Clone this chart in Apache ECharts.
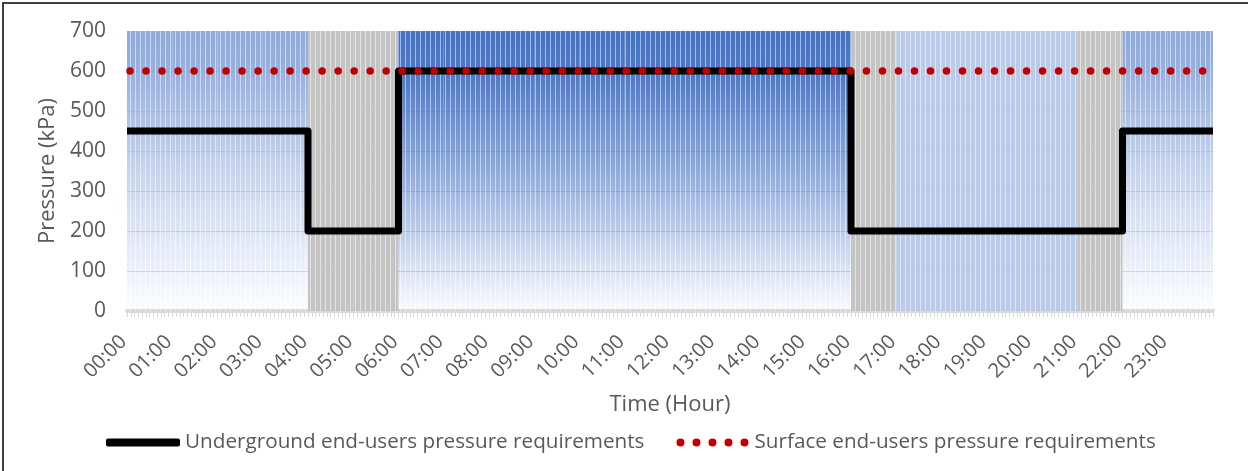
<!DOCTYPE html>
<html>
<head>
<meta charset="utf-8">
<title>Pressure requirements</title>
<script src="https://cdn.jsdelivr.net/npm/echarts@6/dist/echarts.min.js"></script>
<style>
  html, body { margin: 0; padding: 0; background: #ffffff; }
  #wrap { position: relative; width: 1248px; height: 471px; overflow: hidden; }
  #chart { width: 1248px; height: 471px; }
  #frame { position: absolute; left: 2px; top: 2px; width: 1300px; height: 520px;
           border-left: 2px solid #404040; border-top: 2px solid #404040; pointer-events: none; }
</style>
</head>
<body>
<div id="wrap"><div id="chart"></div><div id="frame"></div></div>
<script>
// Hour tick labels
const hourLabels = ['00:00','01:00','02:00','03:00','04:00','05:00','06:00','07:00',
  '08:00','09:00','10:00','11:00','12:00','13:00','14:00','15:00',
  '16:00','17:00','18:00','19:00','20:00','21:00','22:00','23:00'];

// Background period shading, one entry per hour
const bandTypes = ['mid','mid','mid','mid','gray','gray',
  'dark','dark','dark','dark','dark','dark','dark','dark','dark','dark',
  'gray','light','light','light','light','gray','mid','mid'];
const bandTop = 700;

// Underground end-users: pressure (kPa) from each change time (hour)
const undergroundTimes = [0, 4, 6, 16, 22, 24];
const undergroundPressure = [450, 200, 600, 200, 450, 450];

// Surface end-users: constant requirement
const surfaceTimes = [0, 24];
const surfacePressure = [600, 600];

const FONT = '"Open Sans"';
const TXT = '#595959';

function fade(r, g, b, stops) {
  return {
    type: 'linear', x: 0, y: 0, x2: 0, y2: 1,
    colorStops: stops.map(s => ({ offset: s[0], color: `rgba(${r},${g},${b},${s[1]})` }))
  };
}
const stripes = { symbol: 'rect', symbolSize: 1, color: 'rgba(255,255,255,0.5)',
                  dashArrayX: [1, 4], dashArrayY: [20, 0] };
const bandStyle = {
  dark:  { color: fade(68, 114, 196, [[0, 1], [0.15, 0.95], [0.5, 0.6], [1, 0.03]]), decal: stripes },
  mid:   { color: fade(143, 170, 220, [[0, 1], [0.15, 0.92], [0.5, 0.5], [1, 0.03]]), decal: stripes },
  light: { color: 'rgba(180,199,231,0.92)', decal: stripes },
  gray:  { color: 'rgba(191,191,191,0.93)', decal: stripes }
};

const dotsIcon = 'path://' + [0, 16, 32, 48, 64].map(x =>
  `M${x},4a4,4 0 1,0 8,0a4,4 0 1,0 -8,0z`).join('');

const NAME_U = 'Underground end-users pressure requirements';
const NAME_S = 'Surface end-users pressure requirements';

const chart = echarts.init(document.getElementById('chart'), null, { renderer: 'canvas' });
chart.setOption({
  animation: false,
  backgroundColor: '#ffffff',
  grid: { left: 127, right: 35, top: 31, bottom: 160, containLabel: false },
  legend: {
    left: 101, top: 427, itemGap: 32, itemWidth: 74, itemHeight: 8,
    textStyle: { fontFamily: FONT, fontSize: 20.7, color: TXT },
    data: [
      { name: NAME_U, icon: 'roundRect', itemStyle: { color: '#000000', borderWidth: 0 } },
      { name: NAME_S, icon: dotsIcon, itemStyle: { color: '#C00000', borderWidth: 0 } }
    ]
  },
  xAxis: [
    {
      type: 'value', min: 0, max: 24, interval: 1,
      name: 'Time (Hour)', nameLocation: 'middle', nameGap: 83,
      nameTextStyle: { fontFamily: FONT, fontSize: 22, color: TXT },
      axisLine: { show: true, lineStyle: { color: '#D9D9D9', width: 4 } },
      axisTick: { show: true, length: 6, lineStyle: { color: '#D9D9D9', width: 1 } },
      minorTick: { show: true, splitNumber: 12, length: 6, lineStyle: { color: '#D9D9D9', width: 1 } },
      splitLine: { show: false },
      axisLabel: {
        rotate: 45, margin: 24, showMaxLabel: false, padding: [0, 5, 0, 0],
        fontFamily: FONT, fontSize: 20, color: TXT,
        formatter: v => hourLabels[v] || ''
      }
    },
    {
      type: 'category', data: hourLabels, boundaryGap: true, show: false
    }
  ],
  yAxis: {
    type: 'value', min: 0, max: 700, interval: 100,
    name: 'Pressure (kPa)', nameLocation: 'middle', nameGap: 64, nameRotate: 90,
    nameTextStyle: { fontFamily: FONT, fontSize: 22, color: TXT },
    axisLine: { show: false }, axisTick: { show: false },
    splitLine: { show: true, lineStyle: { color: '#D9D9D9', width: 1 } },
    axisLabel: { margin: 21, fontFamily: FONT, fontSize: 21, color: TXT }
  },
  series: [
    {
      type: 'bar', xAxisIndex: 1, silent: true, barCategoryGap: '0%', barGap: '0%',
      data: bandTypes.map(t => ({ value: bandTop, itemStyle: bandStyle[t] })),
      z: 1
    },
    {
      name: NAME_U, type: 'line', xAxisIndex: 0, step: 'end', symbol: 'none',
      data: undergroundTimes.map((t, i) => [t, undergroundPressure[i]]),
      itemStyle: { color: '#000000' },
      lineStyle: { color: '#000000', width: 7, join: 'round', cap: 'butt' },
      z: 3
    },
    {
      name: NAME_S, type: 'line', xAxisIndex: 0, symbol: 'none',
      data: surfaceTimes.map((t, i) => [t, surfacePressure[i]]),
      itemStyle: { color: '#C00000' },
      lineStyle: { color: '#C00000', width: 7.5, type: [0.01, 16], cap: 'round', dashOffset: -3 },
      z: 4
    }
  ]
});
</script>
</body>
</html>
